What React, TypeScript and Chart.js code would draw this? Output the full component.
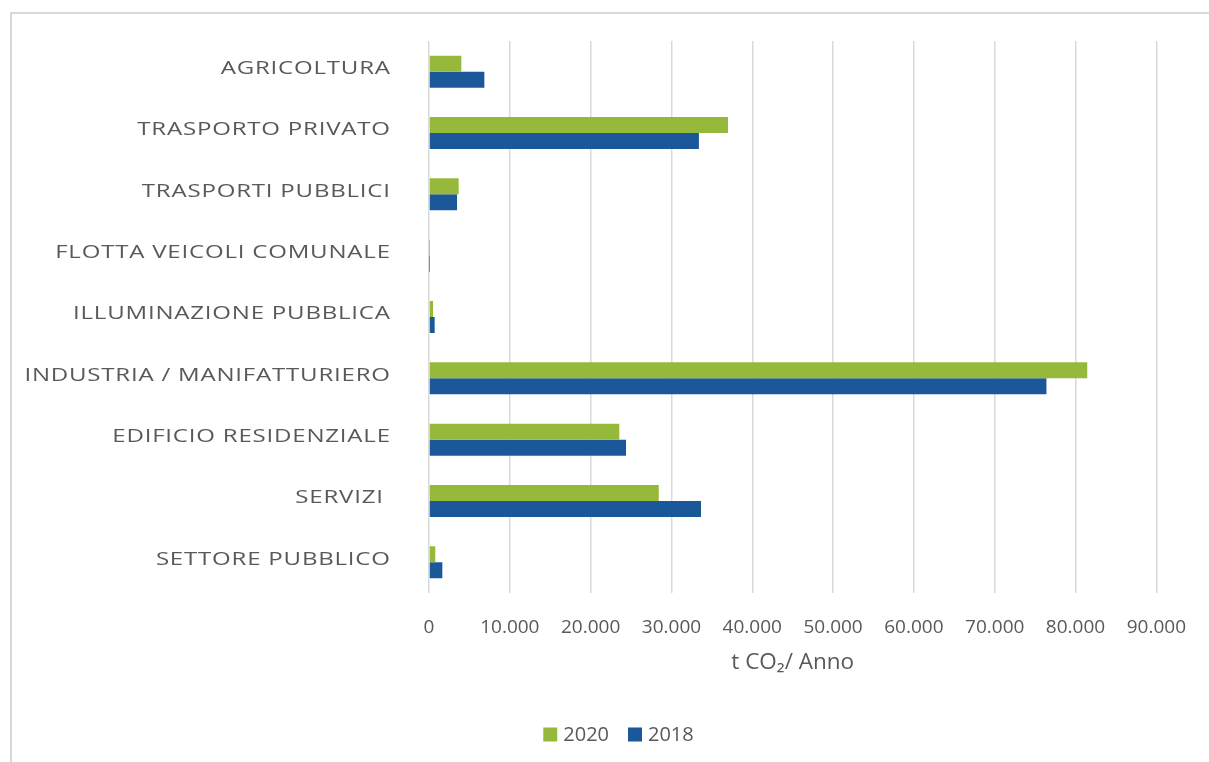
import { useEffect, useRef } from "react";
import { Chart, registerables } from "chart.js";

Chart.register(...registerables);

const categories = [
  "AGRICOLTURA",
  "TRASPORTO PRIVATO",
  "TRASPORTI PUBBLICI",
  "FLOTTA VEICOLI COMUNALE",
  "ILLUMINAZIONE PUBBLICA",
  "INDUSTRIA / MANIFATTURIERO",
  "EDIFICIO RESIDENZIALE",
  "SERVIZI ",
  "SETTORE PUBBLICO",
];
const values2020 = [4000, 37000, 3670, 20, 500, 81450, 23550, 28430, 780];
const values2018 = [6850, 33400, 3470, 20, 700, 76400, 24380, 33660, 1650];
const seriesLabels = ["2020", "2018"];
const seriesColors = ["#97B93B", "#1B5899"];
const xTickLabels = ["0", "10.000", "20.000", "30.000", "40.000", "50.000", "60.000", "70.000", "80.000", "90.000"];
const axisTitle = "t CO₂/ Anno";

const TEXT_COLOR = "#595959";
const FONT = "'Open Sans', 'Liberation Sans', sans-serif";

const customText = {
  id: "customText",
  afterDraw(chart: any) {
    const ctx = chart.ctx as CanvasRenderingContext2D;
    const yScale = chart.scales.y;
    ctx.save();
    ctx.fillStyle = TEXT_COLOR;
    ctx.font = `18.5px ${FONT}`;
    const spacing = 0.6;
    const stretch = 1.3;
    (ctx as any).letterSpacing = `${spacing}px`;
    ctx.textAlign = "right";
    ctx.textBaseline = "middle";
    categories.forEach((c, i) => {
      ctx.save();
      ctx.translate(390, yScale.getPixelForValue(i) - 3);
      ctx.scale(stretch, 1);
      ctx.fillText(c, spacing, 0);
      ctx.restore();
    });
    (ctx as any).letterSpacing = "0px";

    // legend
    ctx.font = `20px ${FONT}`;
    ctx.textAlign = "left";
    const box = 14;
    const gapText = 6;
    const gapItem = 19;
    const widths = seriesLabels.map((l) => ctx.measureText(l).width);
    const total = widths.reduce((a, w) => a + box + gapText + w, 0) + gapItem * (seriesLabels.length - 1);
    let x = 618.5 - total / 2;
    const cy = 734.5;
    chart.data.datasets.forEach((ds: any, i: number) => {
      ctx.fillStyle = ds.backgroundColor;
      ctx.fillRect(x, cy - box / 2, box, box);
      x += box + gapText;
      ctx.fillStyle = TEXT_COLOR;
      ctx.fillText(ds.label, x, cy + 1);
      x += widths[i] + gapItem;
    });
    ctx.restore();
  },
};

export default function App() {
  const ref = useRef<HTMLCanvasElement>(null);
  useEffect(() => {
    const chart = new Chart(ref.current!, {
      type: "bar",
      data: {
        labels: categories,
        datasets: [
          {
            label: seriesLabels[0],
            data: values2020,
            backgroundColor: seriesColors[0],
            categoryPercentage: 0.522,
            barPercentage: 1,
          },
          {
            label: seriesLabels[1],
            data: values2018,
            backgroundColor: seriesColors[1],
            categoryPercentage: 0.522,
            barPercentage: 1,
          },
        ],
      },
      options: {
        indexAxis: "y",
        responsive: false,
        animation: false,
        devicePixelRatio: 1,
        layout: { padding: { top: 41, right: 52, left: 0, bottom: 79 } },
        plugins: {
          legend: { display: false },
          tooltip: { enabled: false },
        },
        scales: {
          x: {
            min: 0,
            max: 90000,
            ticks: {
              stepSize: 10000,
              color: TEXT_COLOR,
              font: { family: FONT, size: 19 },
              padding: 23,
              maxRotation: 0,
              callback: (_v: any, i: number) => xTickLabels[i],
            },
            grid: { color: "#d9d9d9", lineWidth: 1.5, drawTicks: false },
            border: { display: false },
            title: {
              display: true,
              text: axisTitle,
              color: TEXT_COLOR,
              font: { family: FONT, size: 22.5 },
              padding: { top: 0, bottom: 7 },
            },
            afterFit: (scale: any) => {
              scale.height = 90;
            },
          },
          y: {
            ticks: { display: false },
            grid: { display: false },
            border: { display: false },
            afterFit: (scale: any) => {
              scale.width = 429;
            },
          },
        },
      },
      plugins: [customText],
    } as any);
    return () => chart.destroy();
  }, []);
  return (
    <div
      style={{
        position: "fixed",
        left: 0,
        top: 0,
        width: 1209,
        height: 762,
        background: "#fff",
        overflow: "hidden",
      }}
    >
      <div
        style={{
          position: "absolute",
          left: 10,
          top: 12,
          width: 1260,
          height: 800,
          borderLeft: "2px solid #d9d9d9",
          borderTop: "2px solid #d9d9d9",
        }}
      />
      <canvas
        ref={ref}
        width={1209}
        height={762}
        style={{ position: "absolute", left: 0, top: 0, width: 1209, height: 762 }}
      />
    </div>
  );
}
